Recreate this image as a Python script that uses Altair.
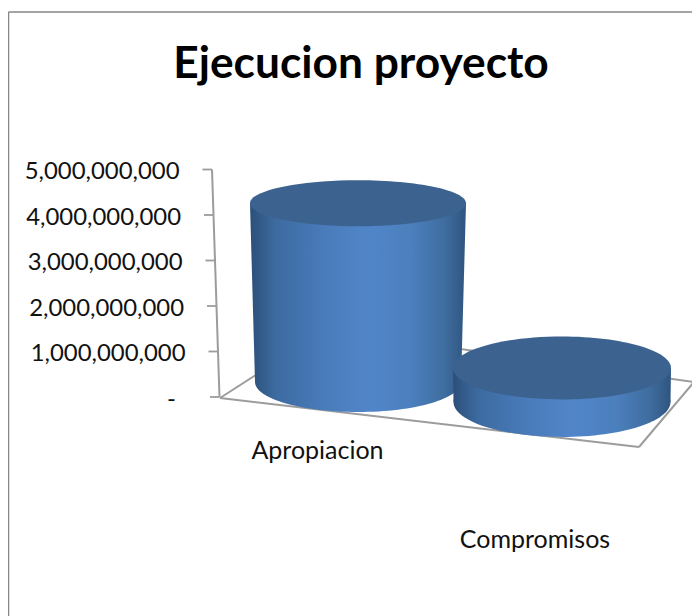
import altair as alt
import pandas as pd

title = "Ejecucion proyecto"
categories = ["Apropiacion", "Compromisos"]
values = [3930000000, 750000000]
tick_values = [0, 1000000000, 2000000000, 3000000000, 4000000000, 5000000000]
tick_labels = ["-", "1,000,000,000", "2,000,000,000", "3,000,000,000", "4,000,000,000", "5,000,000,000"]

# Layout of the 3D projection (image pixels), kept apart from the data
M = 8
FONT = "Lato"
GREY = "#9c9c9c"
base_lift = [330000000, -110000000]
top_geom = [(358, 108, 23), (562, 109, 31.5)]
base_geom = [(358, 103, 30), (562, 108.5, 35)]
label_pos = [(317.5, 451), (535, 540)]

xs = alt.Scale(domain=[0, 692], range=[0, 692])
ys = alt.Scale(domain=[0, 5000000000], range=[397 - M, 169.5 - M])
X = lambda f: alt.X(f, type="quantitative", scale=xs, axis=None)
Y = lambda f: alt.Y(f, type="quantitative", scale=ys, axis=None)


def side(x1=0.0, x2=1.0):
    return alt.Gradient(
        gradient="linear", x1=x1, x2=x2, y1=0, y2=0,
        stops=[
            alt.GradientStop(offset=0, color="#2c4f79"),
            alt.GradientStop(offset=0.12, color="#3d6ba1"),
            alt.GradientStop(offset=0.35, color="#4a7cbb"),
            alt.GradientStop(offset=0.56, color="#5086c9"),
            alt.GradientStop(offset=0.75, color="#4b7fbd"),
            alt.GradientStop(offset=0.9, color="#3f6d9f"),
            alt.GradientStop(offset=1, color="#2f5580"),
        ],
    )


def ellipse(rx, ry):
    r = ry / rx
    return f"M-1,0A1,{r:.4f},0,1,1,1,0A1,{r:.4f},0,1,1,-1,0Z"


def seg(x1, y1, x2, y2, color=GREY, w=2):
    return alt.Chart(pd.DataFrame({"k": [0]})).mark_rule(color=color, strokeWidth=w).encode(
        x=alt.value(x1 - M), x2=alt.value(x2 - M), y=alt.value(y1 - M), y2=alt.value(y2 - M)
    )


layers = [
    seg(8.5, 12, 700, 12, "#868686", 1.5),
    seg(8.5, 12, 8.5, 616, "#868686", 1.5),
    # floor
    seg(220, 398, 326, 330),
    seg(326, 330, 694, 382),
    seg(694, 382, 639, 447),
    seg(639, 447, 220, 398),
    # wall
    seg(212, 169.5, 219.5, 397),
]

wall = pd.DataFrame({"v": tick_values, "label": tick_labels})
wall["x"] = [(219.5 - v / 5e9 * 7.5) - M for v in tick_values]
wall["xt"] = wall["x"] - 9.5
wall["xl"] = wall["x"] - 32.5
layers.append(alt.Chart(wall).mark_rule(color=GREY, strokeWidth=1.8).encode(x=X("x"), x2="xt:Q", y=Y("v")))
layers.append(
    alt.Chart(wall[wall["v"] > 0]).mark_text(align="right", baseline="middle", font=FONT, fontSize=23.9, color="#111111", dy=2.5)
    .encode(x=X("xl"), y=Y("v"), text="label:N")
)
layers.append(
    alt.Chart(wall[wall["v"] == 0]).mark_text(align="right", baseline="middle", font=FONT, fontSize=23.9, color="#111111", dy=2.5, dx=-11)
    .encode(x=X("xl"), y=Y("v"), text="label:N")
)

for i, cat in enumerate(categories):
    cb, rb, ryb = base_geom[i]
    ct, rt, ryt = top_geom[i]
    v0 = base_lift[i]
    v1 = base_lift[i] + values[i]
    body = pd.DataFrame({
        "cat": [cat, cat], "v": [v0, v1],
        "l": [cb - rb - M, ct - rt - M], "r": [cb + rb - M, ct + rt - M],
    })
    layers.append(alt.Chart(body).mark_area(orient="horizontal", fill=side(), interpolate="linear", opacity=1)
                  .encode(y=Y("v"), x=X("l"), x2="r:Q"))
    over = (rt - rb) / (2 * rb)
    base = pd.DataFrame({"v": [v0], "x": [cb - M]})
    layers.append(alt.Chart(base).mark_point(shape=ellipse(rb, ryb), size=(2 * rb) ** 2, filled=True, fill=side(-over, 1 + over), opacity=1, strokeWidth=0)
                  .encode(x=X("x"), y=Y("v")))
    top = pd.DataFrame({"v": [v1], "x": [ct - M]})
    layers.append(alt.Chart(top).mark_point(shape=ellipse(rt, ryt), size=(2 * rt) ** 2, filled=True, fill="#3c638f", opacity=1, strokeWidth=0)
                  .encode(x=X("x"), y=Y("v")))

for i, cat in enumerate(categories):
    lx, ly = label_pos[i]
    layers.append(alt.Chart(pd.DataFrame({"cat": [cat]})).mark_text(font=FONT, fontSize=25, color="#111111", baseline="middle")
                  .encode(x=alt.value(lx - M), y=alt.value(ly - M), text="cat:N"))

chart = alt.layer(*layers).properties(
    width=684, height=608,
    padding=0,
    autosize=alt.AutoSizeParams(type="none"),
    title=alt.TitleParams(title, font=FONT, fontSize=44.3, fontWeight="bold", color="#000000", anchor="middle", frame="group", dy=83, dx=11),
).configure_view(stroke=None)

chart.save("out.html", embed_options={"renderer": "svg", "actions": False})
